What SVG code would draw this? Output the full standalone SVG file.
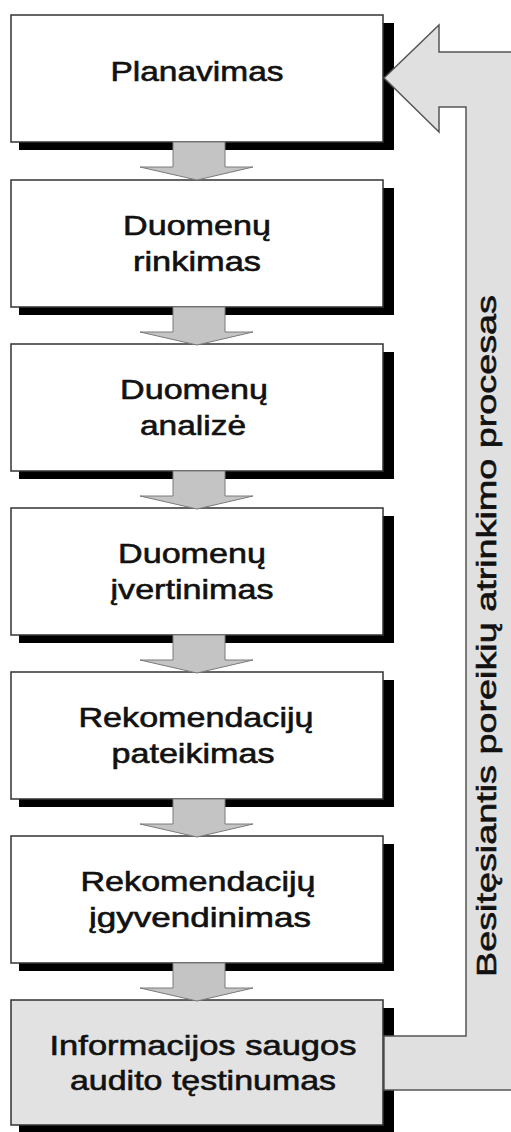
<svg xmlns="http://www.w3.org/2000/svg" width="511" height="1132" viewBox="0 0 511 1132">
  <style>
    .shadow { fill: #000; }
    .box { fill: #fff; stroke: #333; stroke-width: 1.5; }
    .box.last { fill: #e2e2e2; }
    .label { font-family: "Liberation Sans", Arial, sans-serif; font-size: 28px; fill: #111; stroke: #111; stroke-width: 0.6; text-anchor: middle; }
    .step { fill: #c4c4c4; stroke: #7a7a7a; stroke-width: 1; }
    .loop { fill: #e0e0e0; stroke: #555; stroke-width: 1.5; }
  </style>
  <defs>
    <!-- one step arrow between two boxes; y=0 is the lower edge of the upper box -->
    <polygon id="step-arrow" class="step" points="173,0 225,0 225,25 253,25 197,38 140,25 173,25"/>
  </defs>

  <rect width="511" height="1132" fill="#fff"/>

  <g id="node-planavimas">
    <rect class="shadow" x="19" y="23" width="375" height="127"/>
    <rect class="box" x="11" y="15" width="372" height="127"/>
    <text class="label" x="197" y="81" textLength="173" lengthAdjust="spacingAndGlyphs">Planavimas</text>
  </g>

  <g id="node-duomenu-rinkimas">
    <rect class="shadow" x="19" y="188" width="375" height="127"/>
    <rect class="box" x="11" y="180" width="372" height="127"/>
    <text class="label" x="197" y="235" textLength="148" lengthAdjust="spacingAndGlyphs">Duomenų</text>
    <text class="label" x="197" y="271" textLength="128" lengthAdjust="spacingAndGlyphs">rinkimas</text>
  </g>

  <g id="node-duomenu-analize">
    <rect class="shadow" x="19" y="352" width="375" height="127"/>
    <rect class="box" x="11" y="344" width="372" height="127"/>
    <text class="label" x="194" y="399" textLength="148" lengthAdjust="spacingAndGlyphs">Duomenų</text>
    <text class="label" x="193" y="435" textLength="106" lengthAdjust="spacingAndGlyphs">analizė</text>
  </g>

  <g id="node-duomenu-ivertinimas">
    <rect class="shadow" x="19" y="516" width="375" height="127"/>
    <rect class="box" x="11" y="508" width="372" height="127"/>
    <text class="label" x="192" y="563" textLength="148" lengthAdjust="spacingAndGlyphs">Duomenų</text>
    <text class="label" x="192" y="599" textLength="163" lengthAdjust="spacingAndGlyphs">įvertinimas</text>
  </g>

  <g id="node-rekomendaciju-pateikimas">
    <rect class="shadow" x="19" y="680" width="375" height="127"/>
    <rect class="box" x="11" y="672" width="372" height="127"/>
    <text class="label" x="196" y="727" textLength="235" lengthAdjust="spacingAndGlyphs">Rekomendacijų</text>
    <text class="label" x="193" y="763" textLength="163" lengthAdjust="spacingAndGlyphs">pateikimas</text>
  </g>

  <g id="node-rekomendaciju-igyvendinimas">
    <rect class="shadow" x="19" y="844" width="375" height="127"/>
    <rect class="box" x="11" y="836" width="372" height="127"/>
    <text class="label" x="198" y="891" textLength="235" lengthAdjust="spacingAndGlyphs">Rekomendacijų</text>
    <text class="label" x="200" y="927" textLength="222" lengthAdjust="spacingAndGlyphs">įgyvendinimas</text>
  </g>

  <g id="node-audito-testinumas">
    <rect class="shadow" x="19" y="1008" width="375" height="127"/>
    <rect class="box last" x="11" y="1000" width="372" height="125"/>
    <text class="label" x="203" y="1055" textLength="307" lengthAdjust="spacingAndGlyphs">Informacijos saugos</text>
    <text class="label" x="203" y="1090" textLength="266" lengthAdjust="spacingAndGlyphs">audito tęstinumas</text>
  </g>

  <g id="connectors">
    <use href="#step-arrow" y="142"/>
    <use href="#step-arrow" y="307"/>
    <use href="#step-arrow" y="471"/>
    <use href="#step-arrow" y="635"/>
    <use href="#step-arrow" y="799"/>
    <use href="#step-arrow" y="963"/>
    <!-- feedback loop from the last step back to planning -->
    <polygon class="loop" points="384,78 439,25 439,52 530,52 530,1090 384,1090 384,1036 466,1036 466,107 439,107 439,132"/>
    <text class="label" transform="translate(496 636) rotate(-90)" x="0" y="0" textLength="682" lengthAdjust="spacingAndGlyphs">Besitęsiantis poreikių atrinkimo procesas</text>
  </g>
</svg>
